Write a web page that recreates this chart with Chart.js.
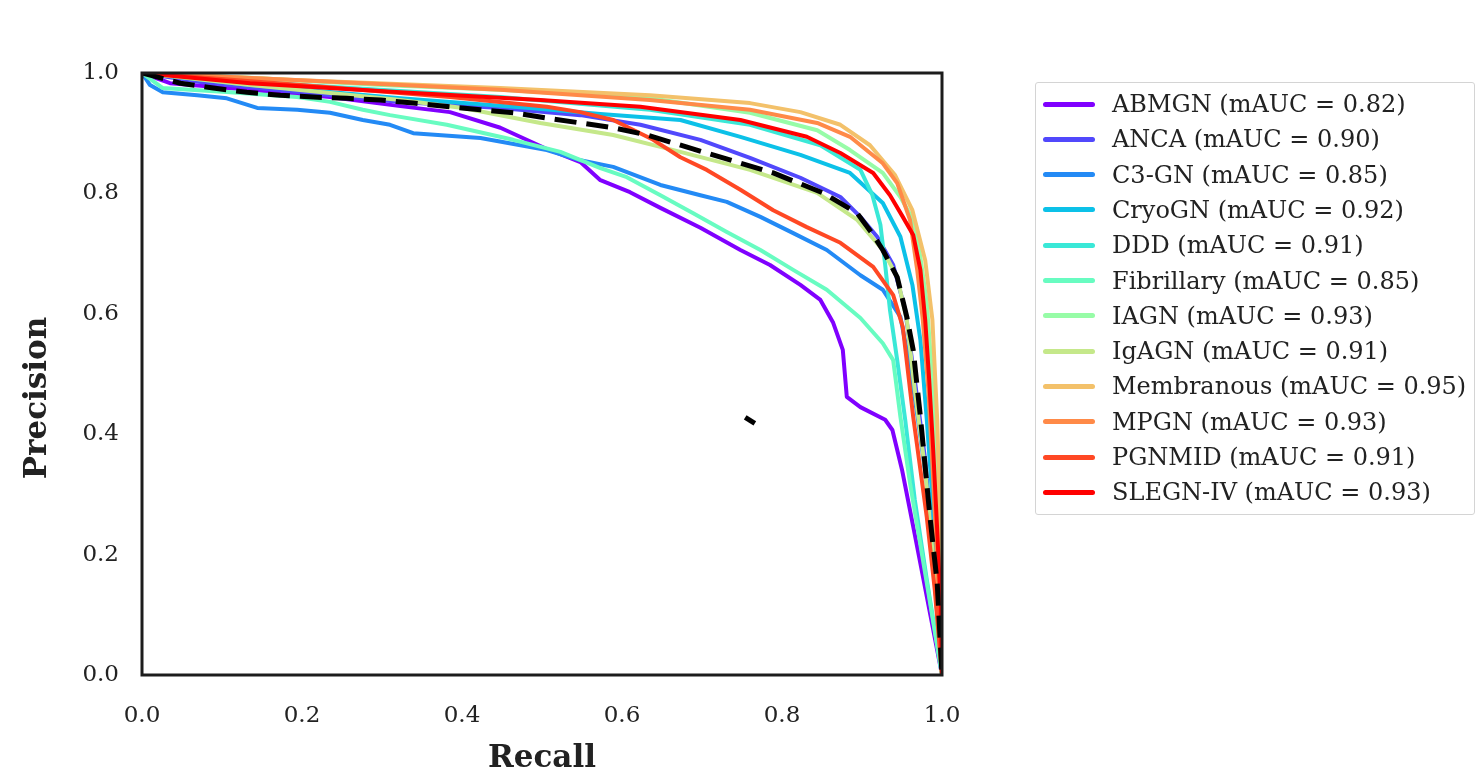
<!DOCTYPE html>
<html>
<head>
<meta charset="utf-8">
<title>Precision / Recall</title>
<script src="https://cdn.jsdelivr.net/npm/chart.js@4.4.1/dist/chart.umd.min.js"></script>
<style>
  html, body { margin: 0; padding: 0; background: #fff; }
  #wrap { position: relative; width: 1478px; height: 782px; }
  #legend {
    position: absolute; left: 1035px; top: 82px; width: 440px; height: 433px;
    box-sizing: border-box; border: 1px solid #d4d4d4; border-radius: 3px;
    font-family: 'DejaVu Serif', serif; font-size: 24px; color: #222;
  }
  .item { position: absolute; left: 0; height: 34px; line-height: 34px; display: flex; align-items: center; white-space: nowrap; }
  .swatch { width: 52px; height: 5px; border-radius: 3px; margin-left: 7px; margin-right: 17px; }
</style>
</head>
<body>
<div id="wrap">
  <canvas id="pr" width="1478" height="782"></canvas>
  <div id="legend"></div>
</div>
<script>
/* ── DATA ─────────────────────────────────────────────── */
const classNames = ['ABMGN','ANCA','C3-GN','CryoGN','DDD','Fibrillary','IAGN','IgAGN','Membranous','MPGN','PGNMID','SLEGN-IV'];
const classAUC   = [0.82, 0.90, 0.85, 0.92, 0.91, 0.85, 0.93, 0.91, 0.95, 0.93, 0.91, 0.93];
const tickValues = [0, 0.2, 0.4, 0.6, 0.8, 1.0];
const tickLabels = ['0.0','0.2','0.4','0.6','0.8','1.0'];

const abmgnRecall    = [0,0.035,0.135,0.235,0.323,0.385,0.448,0.504,0.548,0.573,0.610,0.648,0.698,0.748,0.785,0.823,0.848,0.864,0.876,0.881,0.898,0.929,0.938,0.950,0.966,1];
const abmgnPrecision = [1,0.983,0.972,0.960,0.945,0.935,0.909,0.875,0.852,0.822,0.802,0.776,0.743,0.706,0.681,0.648,0.623,0.585,0.540,0.462,0.445,0.424,0.407,0.341,0.233,0];

const ancaRecall    = [0,0.073,0.198,0.323,0.448,0.548,0.623,0.698,0.760,0.823,0.873,0.898,0.919,0.939,0.954,0.966,0.979,0.989,1];
const ancaPrecision = [1,0.985,0.968,0.952,0.942,0.930,0.914,0.889,0.859,0.826,0.794,0.761,0.728,0.681,0.606,0.490,0.357,0.191,0];

const c3gnRecall    = [0,0.010,0.026,0.069,0.106,0.144,0.194,0.235,0.276,0.310,0.339,0.423,0.506,0.548,0.589,0.648,0.698,0.731,0.773,0.814,0.856,0.898,0.926,0.948,0.960,0.970,0.981,0.991,1];
const c3gnPrecision = [1,0.980,0.968,0.963,0.958,0.942,0.939,0.934,0.922,0.914,0.900,0.892,0.872,0.855,0.844,0.814,0.797,0.786,0.761,0.734,0.706,0.664,0.640,0.595,0.512,0.424,0.319,0.174,0];

const cryoRecall    = [0,0.135,0.323,0.485,0.573,0.673,0.748,0.823,0.885,0.926,0.948,0.963,0.973,0.981,0.989,0.995,1];
const cryoPrecision = [1,0.980,0.958,0.942,0.932,0.922,0.894,0.864,0.834,0.784,0.728,0.648,0.556,0.424,0.274,0.141,0];

const dddRecall    = [0,0.198,0.448,0.635,0.760,0.848,0.898,0.913,0.923,0.929,0.935,0.944,0.954,0.966,0.981,1];
const dddPrecision = [1,0.980,0.960,0.939,0.914,0.880,0.839,0.797,0.748,0.681,0.606,0.523,0.424,0.291,0.158,0];

const fibRecall    = [0,0.026,0.110,0.194,0.235,0.276,0.310,0.381,0.464,0.523,0.573,0.606,0.648,0.689,0.731,0.773,0.814,0.856,0.898,0.926,0.939,0.948,0.960,0.981,1];
const fibPrecision = [1,0.975,0.968,0.960,0.952,0.939,0.930,0.914,0.889,0.869,0.842,0.827,0.797,0.767,0.736,0.706,0.673,0.640,0.593,0.551,0.523,0.429,0.319,0.153,0];

const iagnRecall    = [0,0.135,0.298,0.448,0.635,0.760,0.844,0.885,0.926,0.948,0.964,0.973,0.981,0.988,0.993,0.998,1];
const iagnPrecision = [1,0.992,0.980,0.972,0.958,0.934,0.905,0.872,0.834,0.794,0.756,0.694,0.618,0.490,0.341,0.174,0];

const igagnRecall    = [0,0.135,0.323,0.401,0.498,0.589,0.673,0.760,0.844,0.894,0.926,0.944,0.956,0.966,0.979,0.989,1];
const igagnPrecision = [1,0.980,0.955,0.942,0.917,0.897,0.869,0.839,0.801,0.756,0.706,0.661,0.590,0.473,0.341,0.191,0];

const membRecall    = [0,0.198,0.448,0.635,0.760,0.823,0.873,0.910,0.941,0.963,0.979,0.988,0.994,0.998,1];
const membPrecision = [1,0.988,0.975,0.963,0.950,0.935,0.914,0.880,0.831,0.772,0.689,0.590,0.424,0.241,0];

const mpgnRecall    = [0,0.198,0.448,0.635,0.760,0.844,0.885,0.926,0.944,0.960,0.969,0.976,0.983,0.989,0.995,1];
const mpgnPrecision = [1,0.988,0.972,0.955,0.939,0.917,0.894,0.850,0.817,0.756,0.673,0.590,0.473,0.324,0.158,0];

const pgnmidRecall    = [0,0.198,0.385,0.506,0.548,0.589,0.639,0.673,0.706,0.748,0.789,0.831,0.873,0.914,0.939,0.951,0.964,0.973,0.981,0.991,1];
const pgnmidPrecision = [1,0.980,0.960,0.944,0.935,0.922,0.889,0.860,0.839,0.806,0.772,0.744,0.718,0.678,0.631,0.578,0.429,0.341,0.262,0.141,0];

const slegnRecall    = [0,0.135,0.323,0.498,0.623,0.748,0.831,0.873,0.914,0.935,0.951,0.964,0.973,0.979,0.984,0.989,0.994,0.998,1];
const slegnPrecision = [1,0.983,0.968,0.955,0.944,0.922,0.894,0.867,0.834,0.797,0.761,0.731,0.673,0.590,0.490,0.374,0.241,0.125,0];

const meanRecall    = [0,0.048,0.089,0.131,0.173,0.214,0.256,0.298,0.339,0.423,0.464,0.506,0.548,0.589,0.631,0.706,0.789,0.851,0.894,0.914,0.926,0.944,0.956,0.964,0.973,0.985,0.994,1];
const meanPrecision = [1,0.983,0.975,0.968,0.963,0.960,0.958,0.955,0.950,0.939,0.934,0.925,0.917,0.909,0.897,0.867,0.834,0.801,0.767,0.731,0.706,0.661,0.595,0.540,0.429,0.262,0.153,0];

// stray dash fragment visible in the plot
const strayRecall    = [0.754, 0.766];
const strayPrecision = [0.428, 0.418];

const classRecall    = [abmgnRecall, ancaRecall, c3gnRecall, cryoRecall, dddRecall, fibRecall, iagnRecall, igagnRecall, membRecall, mpgnRecall, pgnmidRecall, slegnRecall];
const classPrecision = [abmgnPrecision, ancaPrecision, c3gnPrecision, cryoPrecision, dddPrecision, fibPrecision, iagnPrecision, igagnPrecision, membPrecision, mpgnPrecision, pgnmidPrecision, slegnPrecision];

/* rainbow colormap, 12 steps */
const classColors = ['#8000ff','#5148fc','#238af5','#0cc1e8','#3ae8d7','#68fcc1','#97fca7','#c5e88a','#f3c16a','#ff8a48','#ff4824','#ff0000'];

const FONT = "'DejaVu Serif', serif";

function toPoints(rs, ps) { return rs.map((r, i) => ({ x: r, y: ps[i] })); }

const datasets = classNames.map((name, i) => ({
  label: `${name} (mAUC = ${classAUC[i].toFixed(2)})`,
  data: toPoints(classRecall[i], classPrecision[i]),
  borderColor: classColors[i],
  borderWidth: 4,
  order: classNames.length - i + 1,
}));
datasets.push({
  label: 'mean',
  data: toPoints(meanRecall, meanPrecision),
  borderColor: '#000',
  borderWidth: 5,
  borderDash: [22, 10],
  borderCapStyle: 'butt',
  order: 0,
});
datasets.push({
  label: 'stray',
  data: toPoints(strayRecall, strayPrecision),
  borderColor: '#000',
  borderWidth: 5,
  borderCapStyle: 'butt',
  order: 0,
});

/* ── FRAME + Y TITLE ─────────────────────────────────── */
const framePlugin = {
  id: 'frame',
  afterDatasetsDraw(chart) {
    const { ctx, chartArea: a } = chart;
    ctx.save();
    ctx.strokeStyle = '#1c1c1c';
    ctx.lineWidth = 3;
    ctx.strokeRect(a.left, a.top, a.right - a.left, a.bottom - a.top);
    ctx.restore();
  },
  // the y label sits a bit below the middle of the axis in the original
  afterDraw(chart) {
    const { ctx, chartArea: a } = chart;
    ctx.save();
    ctx.translate(38, (a.top + a.bottom) / 2 + 24);
    ctx.rotate(-Math.PI / 2);
    ctx.fillStyle = '#222';
    ctx.font = `bold 31px ${FONT}`;
    ctx.textAlign = 'center';
    ctx.textBaseline = 'middle';
    ctx.fillText('Precision', 0, 0);
    ctx.restore();
  }
};

new Chart(document.getElementById('pr'), {
  type: 'line',
  data: { datasets },
  options: {
    responsive: false,
    animation: false,
    devicePixelRatio: 1,
    layout: { padding: { top: 73, right: 536, left: 0, bottom: 0 } },
    elements: {
      point: { radius: 0 },
      line: { tension: 0, borderJoinStyle: 'round', borderCapStyle: 'round', fill: false }
    },
    plugins: { legend: { display: false }, tooltip: { enabled: false } },
    scales: {
      x: {
        type: 'linear', min: 0, max: 1,
        afterFit: s => { s.height = 107; },
        afterBuildTicks: s => { s.ticks = tickValues.map(v => ({ value: v })); },
        grid: { display: false, drawTicks: false },
        border: { display: false },
        ticks: { padding: 27, color: '#222', font: { family: FONT, size: 23 }, callback: (v, i) => tickLabels[i] },
        title: { display: true, text: 'Recall', color: '#222', font: { family: FONT, size: 31, weight: 'bold' }, padding: { top: 0, bottom: 4 } }
      },
      y: {
        type: 'linear', min: 0, max: 1,
        afterFit: s => { s.width = 142; },
        afterBuildTicks: s => { s.ticks = tickValues.map(v => ({ value: v })); },
        grid: { display: false, drawTicks: false },
        border: { display: false },
        ticks: { padding: 23, color: '#222', font: { family: FONT, size: 23 }, callback: (v, i) => tickLabels[i] },
        title: { display: false }
      }
    }
  },
  plugins: [framePlugin]
});

/* ── LEGEND ──────────────────────────────────────────── */
const legend = document.getElementById('legend');
classNames.forEach((name, i) => {
  const item = document.createElement('div');
  item.className = 'item';
  item.style.top = (21 + i * 35.3 - 17) + 'px';
  item.innerHTML = `<span class="swatch" style="background:${classColors[i]}"></span><span>${name} (mAUC = ${classAUC[i].toFixed(2)})</span>`;
  legend.appendChild(item);
});
</script>
</body>
</html>
